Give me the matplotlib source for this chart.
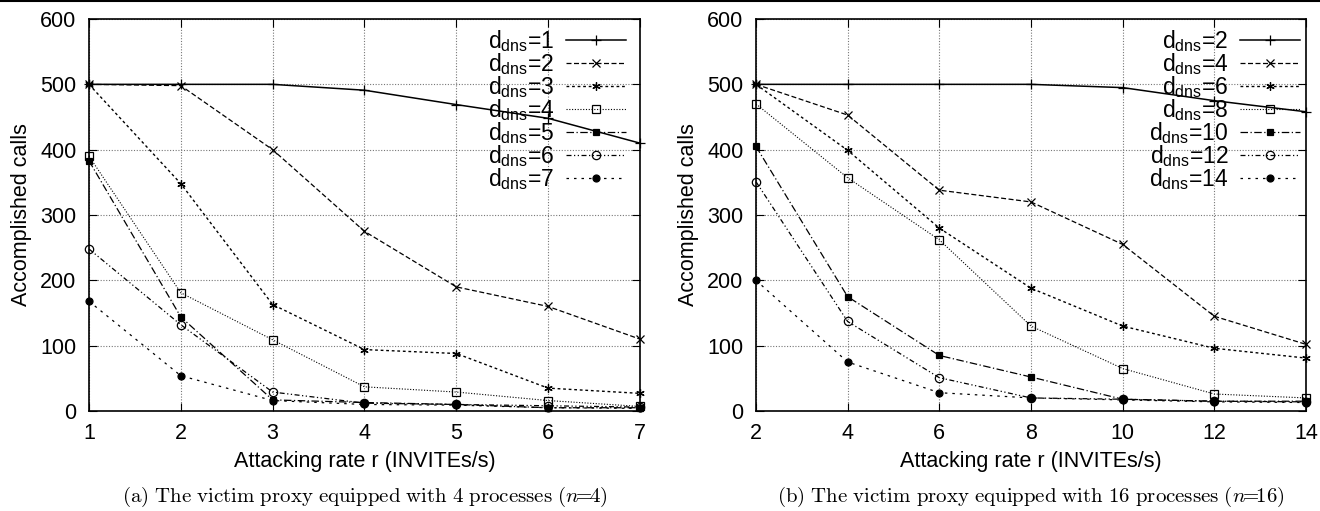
import matplotlib
matplotlib.use("Agg")
import matplotlib.pyplot as plt
from matplotlib.lines import Line2D

plt.rcParams['font.family'] = ['Liberation Sans', 'DejaVu Sans']
plt.rcParams['mathtext.fontset'] = 'custom'
plt.rcParams['mathtext.rm'] = 'Liberation Sans'

# Panel (a): n=4
xa = [1, 2, 3, 4, 5, 6, 7]
ddns_a = [1, 2, 3, 4, 5, 6, 7]
ya = [
    [500, 500, 500, 491, 469, 448, 410],
    [500, 498, 400, 275, 190, 160, 110],
    [500, 348, 163, 94, 88, 35, 27],
    [390, 181, 109, 37, 29, 16, 7],
    [383, 144, 17, 13, 10, 5, 5],
    [248, 132, 29, 12, 10, 8, 6],
    [168, 54, 16, 10, 9, 5, 4],
]

# Panel (b): n=16
xb = [2, 4, 6, 8, 10, 12, 14]
ddns_b = [2, 4, 6, 8, 10, 12, 14]
yb = [
    [500, 500, 500, 500, 495, 475, 458],
    [500, 453, 338, 320, 255, 145, 102],
    [500, 399, 280, 188, 130, 96, 81],
    [470, 357, 262, 130, 65, 26, 20],
    [405, 175, 85, 52, 18, 15, 15],
    [351, 137, 51, 20, 18, 15, 14],
    [200, 75, 28, 20, 17, 14, 13],
]

captions = [r"$\mathrm{(a)\ The\ victim\ proxy\ equipped\ with\ 4\ processes\ (}n\!\!=\!\!\mathrm{4)}$",
            r"$\mathrm{(b)\ The\ victim\ proxy\ equipped\ with\ 16\ processes\ (}n\!\!=\!\!\mathrm{16)}$"]

markers = ['+', 'x', (6, 2, 0), 's', 's', 'o', 'o']
fills = ['none', 'none', 'none', 'none', 'black', 'none', 'black']
styles = ['-', (0, (4, 2)), (0, (2, 2)), (0, (1, 1.5)), (0, (6, 2, 1, 2)),
          (0, (4, 2, 1, 2, 1, 2)), (0, (2, 4))]
lws = [1.1, 0.9, 1.0, 0.8, 0.9, 0.9, 0.9]
msizes = [7, 6, 6, 6, 5, 6, 5]

fig = plt.figure(figsize=(13.2, 5.11), dpi=100)
ax1 = fig.add_axes([0.0674, 0.1957, 0.4174, 0.7671])
ax2 = fig.add_axes([0.5727, 0.1957, 0.4167, 0.7671])

fig.add_artist(Line2D([0, 1], [0.998, 0.998], color='black', lw=1.5,
                      transform=fig.transFigure))

for ax, xs, ys, dd, cap, anc in [(ax1, xa, ya, ddns_a, captions[0], 0.991),
                                 (ax2, xb, yb, ddns_b, captions[1], 1.005)]:
    for i, (y, d) in enumerate(zip(ys, dd)):
        ax.plot(xs, y, color='black', linestyle=styles[i], lw=lws[i],
                marker=markers[i], markersize=msizes[i],
                markerfacecolor=fills[i], markeredgecolor='black',
                markeredgewidth=0.9, clip_on=False, zorder=3,
                label=r'd$_{\mathrm{dns}}$=%d' % d)
    ax.set_xlim(xs[0], xs[-1])
    ax.set_ylim(0, 600)
    ax.set_xticks(xs)
    ax.set_yticks([0, 100, 200, 300, 400, 500, 600])
    ax.grid(True, color='#777777', linestyle=(0, (1, 1.5)), lw=0.8)
    ax.tick_params(direction='in', top=True, right=True, labelsize=15.5,
                   length=6, width=0.8, pad=9)
    for s in ax.spines.values():
        s.set_linewidth(1.2)
    ax.set_xlabel('Attacking rate r (INVITEs/s)', fontsize=15.5, labelpad=5)
    ax.set_ylabel('Accomplished calls', fontsize=15.5, labelpad=6)
    leg = ax.legend(loc='upper right', frameon=False, markerfirst=False,
                    fontsize=16.5, handlelength=2.6, labelspacing=-0.13,
                    borderaxespad=0.0, handletextpad=0.5,
                    bbox_to_anchor=(anc, 1.0))
    for t in leg.get_texts():
        t.set_ha('right')
    ax.text(0.5, -0.219, cap, transform=ax.transAxes, ha='center', va='center',
            fontsize=15, math_fontfamily='cm')

fig.savefig('out.png', dpi=100)
